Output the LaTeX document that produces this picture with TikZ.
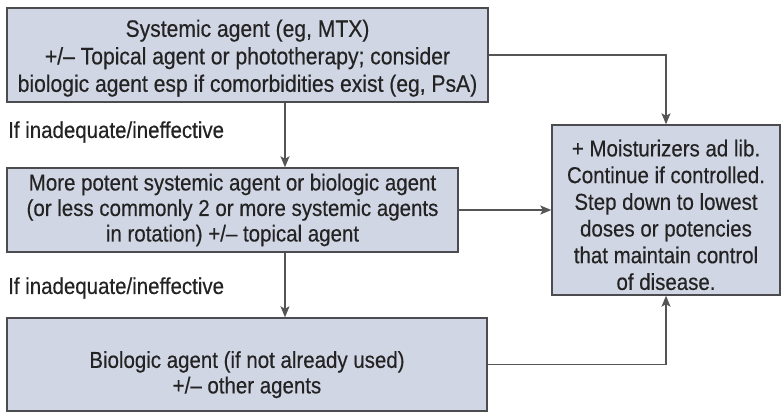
\documentclass[tikz,border=0pt]{standalone}
\usepackage{fontspec}
\setmainfont{Liberation Sans}[FakeStretch=0.89,FakeBold=0.4]
\usetikzlibrary{arrows.meta,calc}
\definecolor{boxfill}{RGB}{209,214,229}
\definecolor{boxline}{RGB}{75,75,80}
\definecolor{txt}{RGB}{35,35,35}
\definecolor{arr}{RGB}{85,85,85}
\newcommand\tsh[1]{\rule{0pt}{#1}}
\tikzset{
  stepbox/.style={draw=boxline, fill=boxfill, line width=1.4pt, inner sep=0pt,
    align=center, text=txt, font=\fontsize{23}{25.5}\selectfont},
  lbl/.style={anchor=west, inner sep=0pt, text=txt, font=\fontsize{23}{25.5}\selectfont},
  conn/.style={draw=arr, line width=1.3pt, -{Stealth[length=11pt,width=9pt,inset=2.5pt]}}
}
\begin{document}
\begin{tikzpicture}[x=1pt,y=1pt]
\useasboundingbox (0,0) rectangle (783,-413);
\node[stepbox, minimum width=481pt, minimum height=94pt, font=\fontsize{23.7}{27.5}\selectfont] (b1) at (247.5,-55)
  {\tsh{23.5pt}Systemic agent (eg, MTX)\\+/\textendash\ Topical agent or phototherapy; consider\\biologic agent esp if comorbidities exist (eg, PsA)};
\node[stepbox, minimum width=451pt, minimum height=84pt] (b2) at (232.5,-210)
  {More potent systemic agent or biologic agent\\(or less commonly 2 or more systemic agents\\in rotation) +/\textendash\ topical agent};
\node[stepbox, minimum width=480pt, minimum height=93pt] (b3) at (247,-364.5)
  {\tsh{37pt}Biologic agent (if not already used)\\+/\textendash\ other agents};
\node[stepbox, minimum width=228pt, minimum height=170pt, font=\fontsize{23}{26.7}\selectfont] (b4) at (666,-210)
  {\tsh{26.5pt}+ Moisturizers ad lib.\\Continue if controlled.\\Step down to lowest\\doses or potencies\\that maintain control\\of disease.};
\node[lbl] (l1) at (8,-132) {If inadequate/ineffective};
\node[lbl] (l2) at (8,-288) {If inadequate/ineffective};
\coordinate (xa) at (285,0);
\draw[conn] (b1.south -| xa) -- (b2.north -| xa);
\draw[conn] (b2.south -| xa) -- (b3.north -| xa);
\draw[conn] (b1.east) -| (b4.north);
\draw[conn] (b2.east) -- (b4.west);
\draw[conn] (b3.east) -| (b4.south);
\end{tikzpicture}
\end{document}
